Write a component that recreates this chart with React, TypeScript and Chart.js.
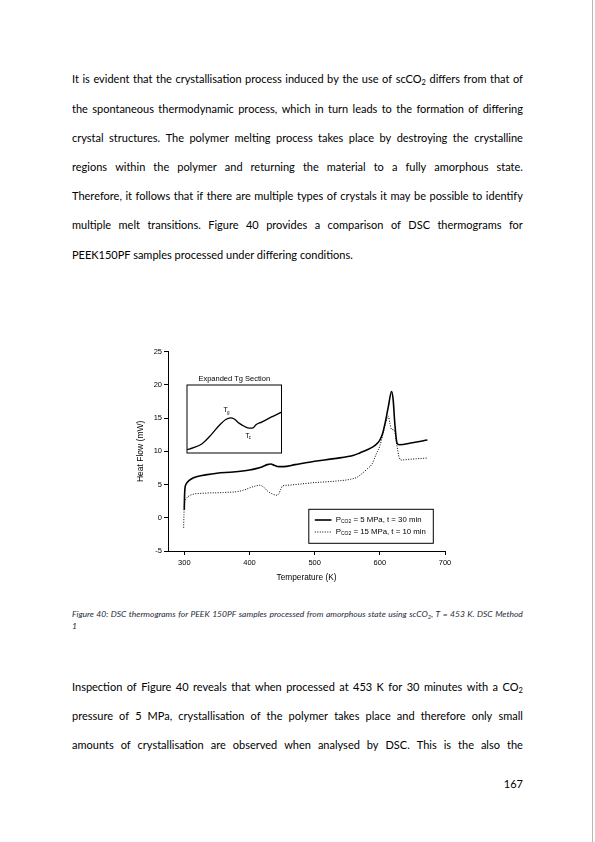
import React, { useEffect, useRef } from "react";
import { Chart, registerables } from "chart.js";

Chart.register(...registerables);

// ---- Chart data ----
// Series A: P_CO2 = 5 MPa, t = 30 min (solid)
const tempA = [300, 300.3, 301, 302.5, 305, 310, 320, 335, 350, 375, 400, 410, 420, 427, 433, 438, 445, 452, 470, 500, 530, 560, 570, 580, 590, 595, 600, 604, 608, 613, 618, 620.5, 623, 626.5, 630, 650, 673];
const flowA = [1.2, 3.0, 4.4, 5.0, 5.4, 5.8, 6.2, 6.5, 6.7, 6.9, 7.2, 7.4, 7.7, 8.0, 8.1, 7.9, 7.7, 7.7, 8.0, 8.5, 8.9, 9.4, 9.8, 10.2, 10.7, 11.1, 11.7, 12.6, 14.2, 16.7, 19.0, 17.7, 14.2, 11.2, 11.0, 11.3, 11.7];
// Series B: P_CO2 = 15 MPa, t = 10 min (dotted)
const tempB = [299, 299.5, 300, 301, 303, 306, 312, 330, 360, 385, 395, 403, 410, 416, 422, 428, 435, 441, 445, 448, 451, 458, 480, 500, 530, 555, 565, 572, 580, 588, 595, 600, 605, 609, 613, 615.5, 618, 622, 626, 630, 634, 645, 674];
const flowB = [-1.5, 0.5, 1.8, 2.5, 2.9, 3.2, 3.5, 3.7, 3.8, 4.0, 4.3, 4.6, 4.8, 4.9, 4.6, 4.0, 3.6, 3.4, 3.6, 4.3, 4.8, 4.9, 5.1, 5.3, 5.5, 5.8, 6.1, 6.6, 7.3, 8.1, 9.7, 10.8, 12.7, 14.3, 15.3, 14.2, 13.3, 13.2, 11.0, 9.0, 8.7, 8.8, 9.0];

const xTicks = [300, 400, 500, 600, 700];
const yTicks = [-5, 0, 5, 10, 15, 20, 25];

// legend labels: [main, subscript, rest]
const legendA = ["P", "CO2", " = 5 MPa, t = 30 min"];
const legendB = ["P", "CO2", " = 15 MPa, t = 10 min"];

// Inset (expanded Tg section), relative units 0..100
const insetX = [0, 7, 16, 25, 34, 41, 46, 50, 55, 61, 66, 70, 73, 79, 89, 100];
const insetY = [4.9, 7.8, 13.7, 25.9, 40.5, 49.3, 51.7, 50, 43.9, 39, 36.6, 37, 41.5, 45.4, 52.7, 60];
const insetTitle = "Expanded Tg Section";
const insetMarks = [
  { x: 41, y: 63, main: "T", sub: "g" },
  { x: 64, y: 25, main: "T", sub: "c" },
];

// ---- Page text ----
const para1 = [
  "It is evident that the crystallisation process induced by the use of scCO_{2} differs from that of",
  "the spontaneous thermodynamic process, which in turn leads to the formation of differing",
  "crystal structures. The polymer melting process takes place by destroying the crystalline",
  "regions within the polymer and returning the material to a fully amorphous state.",
  "Therefore, it follows that if there are multiple types of crystals it may be possible to identify",
  "multiple melt transitions. Figure 40 provides a comparison of DSC thermograms for",
  "PEEK150PF samples processed under differing conditions.",
];
const para2 = [
  "Inspection of Figure 40 reveals that when processed at 453 K for 30 minutes with a CO_{2}",
  "pressure of 5 MPa, crystallisation of the polymer takes place and therefore only small",
  "amounts of crystallisation are observed when analysed by DSC. This is the also the",
];
const caption = [
  "Figure 40: DSC thermograms for PEEK 150PF samples processed from amorphous state using scCO_{2}, T = 453 K. DSC Method",
  "1",
];
const pageNumber = "167";

const FONT = '"Liberation Sans", Arial, sans-serif';
const BODY_FONT = 'Lato, "Open Sans", sans-serif';

const subStyle: React.CSSProperties = {
  fontSize: "0.68em",
  verticalAlign: "baseline",
  position: "relative",
  top: "0.28em",
  lineHeight: 0,
};

function renderRich(w: string, key: number | string) {
  const parts = w.split(/_\{([^}]*)\}/);
  return (
    <span key={key}>
      {parts.map((p, i) => (i % 2 ? <sub key={i} style={subStyle}>{p}</sub> : <React.Fragment key={i}>{p}</React.Fragment>))}
    </span>
  );
}

function TextLine(props: { text: string; top: number; justify: boolean; size: number; lh: number; italic?: boolean; color?: string }) {
  const { text, top, justify, size, lh, italic, color } = props;
  const base: React.CSSProperties = {
    position: "absolute",
    left: 72,
    width: 451,
    top,
    height: lh,
    lineHeight: lh + "px",
    fontSize: size,
    fontFamily: BODY_FONT,
    fontStyle: italic ? "italic" : "normal",
    color: color || "#000",
    whiteSpace: "nowrap",
  };
  if (justify) {
    const words = text.split(" ");
    return (
      <div style={{ ...base, display: "flex", justifyContent: "space-between" }}>
        {words.map((w, i) => renderRich(w, i))}
      </div>
    );
  }
  return <div style={base}>{renderRich(text, 0)}</div>;
}

const legendPlugin = {
  id: "dscLegend",
  afterDatasetsDraw(chart: any) {
    const { ctx, chartArea } = chart;
    const w = 124.5;
    const h = 34;
    const x0 = chartArea.right - 11.7 - w;
    const y0 = chartArea.bottom - 7.7 - h;
    ctx.save();
    ctx.fillStyle = "#fff";
    ctx.fillRect(x0, y0, w, h);
    ctx.strokeStyle = "#000";
    ctx.lineWidth = 1;
    ctx.setLineDash([]);
    ctx.strokeRect(x0, y0, w, h);
    const labels = [legendA, legendB];
    chart.data.datasets.forEach((ds: any, i: number) => {
      const y = y0 + 10.7 + i * 12;
      ctx.beginPath();
      ctx.setLineDash(ds.borderDash || []);
      ctx.lineWidth = ds.borderWidth;
      ctx.strokeStyle = ds.borderColor;
      ctx.moveTo(x0 + 6, y);
      ctx.lineTo(x0 + 22.7, y);
      ctx.stroke();
      ctx.setLineDash([]);
      const [m, s, r] = labels[i];
      let tx = x0 + 27;
      ctx.fillStyle = "#000";
      ctx.textBaseline = "middle";
      ctx.textAlign = "left";
      ctx.font = `7.8px ${FONT}`;
      ctx.fillText(m, tx, y);
      tx += ctx.measureText(m).width;
      ctx.font = `5px ${FONT}`;
      ctx.fillText(s, tx, y + 2);
      tx += ctx.measureText(s).width;
      ctx.font = `7.8px ${FONT}`;
      ctx.fillText(r, tx, y);
    });
    ctx.restore();
  },
};

const insetPlugin = {
  id: "insetDecor",
  afterDatasetsDraw(chart: any) {
    const { ctx, chartArea, scales } = chart;
    ctx.save();
    ctx.strokeStyle = "#000";
    ctx.lineWidth = 1;
    ctx.strokeRect(chartArea.left, chartArea.top, chartArea.right - chartArea.left, chartArea.bottom - chartArea.top);
    ctx.fillStyle = "#000";
    ctx.textAlign = "center";
    ctx.textBaseline = "middle";
    ctx.font = `7.5px ${FONT}`;
    ctx.fillText(insetTitle, (chartArea.left + chartArea.right) / 2, chartArea.top - 6);
    insetMarks.forEach((mk) => {
      const px = scales.x.getPixelForValue(mk.x);
      const py = scales.y.getPixelForValue(mk.y);
      ctx.textAlign = "center";
      ctx.font = `7px ${FONT}`;
      ctx.fillText(mk.main, px, py);
      const wMain = ctx.measureText(mk.main).width;
      ctx.textAlign = "left";
      ctx.font = `4.5px ${FONT}`;
      ctx.fillText(mk.sub, px + wMain / 2 - 0.8, py + 2.2);
    });
    ctx.restore();
  },
};

function MainChart() {
  const ref = useRef<HTMLCanvasElement>(null);
  useEffect(() => {
    const chart = new Chart(ref.current as HTMLCanvasElement, {
      type: "line",
      data: {
        datasets: [
          {
            label: legendA.join(""),
            data: tempA.map((x, i) => ({ x, y: flowA[i] })),
            borderColor: "#000",
            borderWidth: 1.6,
            pointRadius: 0,
            fill: false,
            cubicInterpolationMode: "monotone",
          },
          {
            label: legendB.join(""),
            data: tempB.map((x, i) => ({ x, y: flowB[i] })),
            borderColor: "#000",
            borderWidth: 1,
            borderDash: [1, 1.5],
            pointRadius: 0,
            fill: false,
            cubicInterpolationMode: "monotone",
          },
        ],
      },
      options: {
        animation: false,
        responsive: false,
        maintainAspectRatio: false,
        layout: { padding: { top: 11.7, right: 15, left: 0, bottom: 0 } },
        plugins: { legend: { display: false }, tooltip: { enabled: false }, title: { display: false } },
        scales: {
          x: {
            type: "linear",
            min: 275,
            max: 700,
            afterBuildTicks: (s: any) => {
              s.ticks = xTicks.map((v) => ({ value: v }));
            },
            afterFit: (s: any) => {
              s.height = 39;
            },
            ticks: { color: "#000", font: { family: FONT, size: 7.5 }, padding: 3, maxRotation: 0, autoSkip: false },
            grid: { display: true, drawOnChartArea: false, drawTicks: true, tickLength: 4, color: "#000", lineWidth: 1 },
            border: { display: true, color: "#000", width: 1 },
            title: { display: true, text: "Temperature (K)", color: "#000", font: { family: FONT, size: 8.3 }, padding: { top: 0, bottom: 7 } },
          },
          y: {
            type: "linear",
            min: -5,
            max: 25,
            afterBuildTicks: (s: any) => {
              s.ticks = yTicks.map((v) => ({ value: v }));
            },
            afterFit: (s: any) => {
              s.width = 58;
            },
            ticks: { color: "#000", font: { family: FONT, size: 7.5 }, padding: 2 },
            grid: { display: true, drawOnChartArea: false, drawTicks: true, tickLength: 4, color: "#000", lineWidth: 1 },
            border: { display: true, color: "#000", width: 1 },
            title: { display: true, text: "Heat Flow (mW)", color: "#000", font: { family: FONT, size: 8.5 }, padding: { top: 25.9, bottom: 0 } },
          },
        },
      },
      plugins: [legendPlugin],
    } as any);
    return () => chart.destroy();
  }, []);
  return <canvas ref={ref} width={350} height={250} style={{ position: "absolute", left: 110, top: 340 }} />;
}

function InsetChart() {
  const ref = useRef<HTMLCanvasElement>(null);
  useEffect(() => {
    const chart = new Chart(ref.current as HTMLCanvasElement, {
      type: "line",
      data: {
        datasets: [
          {
            data: insetX.map((x, i) => ({ x, y: insetY[i] })),
            borderColor: "#000",
            borderWidth: 1.3,
            pointRadius: 0,
            fill: false,
            cubicInterpolationMode: "monotone",
          },
        ],
      },
      options: {
        animation: false,
        responsive: false,
        maintainAspectRatio: false,
        layout: { padding: { top: 17, right: 8.5, left: 7, bottom: 5 } },
        plugins: { legend: { display: false }, tooltip: { enabled: false } },
        scales: {
          x: { type: "linear", min: 0, max: 100, display: false },
          y: { type: "linear", min: 0, max: 100, display: false },
        },
      },
      plugins: [insetPlugin],
    } as any);
    return () => chart.destroy();
  }, []);
  return <canvas ref={ref} width={110} height={90} style={{ position: "absolute", left: 180, top: 368 }} />;
}

export default function App() {
  return (
    <div style={{ position: "absolute", left: 0, top: 0, width: 595, height: 842, background: "#fff", overflow: "hidden" }}>
      {para1.map((t, i) => (
        <TextLine key={"p1" + i} text={t} top={72.3 + i * 29.2} justify={i < para1.length - 1} size={11} lh={14} />
      ))}
      <MainChart />
      <InsetChart />
      {caption.map((t, i) => (
        <TextLine key={"c" + i} text={t} top={609 + i * 11.5} justify={i < caption.length - 1} size={8.5} lh={11} italic color="#1e2a38" />
      ))}
      {para2.map((t, i) => (
        <TextLine key={"p2" + i} text={t} top={679.8 + i * 29} justify={true} size={11} lh={14} />
      ))}
      <div style={{ position: "absolute", left: 72, width: 451, top: 776.5, height: 14, lineHeight: "14px", fontSize: 11, fontFamily: BODY_FONT, textAlign: "right", color: "#000" }}>
        {pageNumber}
      </div>
      <div style={{ position: "absolute", left: 592, top: 0, width: 1, height: 842, background: "#b8b8b8" }} />
    </div>
  );
}
